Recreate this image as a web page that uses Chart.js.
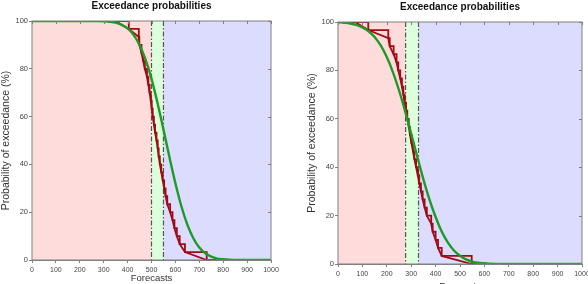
<!DOCTYPE html>
<html>
<head>
<meta charset="utf-8">
<script src="https://cdn.jsdelivr.net/npm/chart.js@4.4.1/dist/chart.umd.min.js"></script>
<style>
  html, body { margin: 0; padding: 0; background: #fff; overflow: hidden; }
  body { width: 588px; height: 284px; position: relative; }
  canvas { position: absolute; top: 0; }
  #left { left: 0; }
  #right { left: 294px; }
</style>
</head>
<body>
<canvas id="left" width="294" height="284"></canvas>
<canvas id="right" width="294" height="292"></canvas>
<script>
// ===== data =====
const xTicks = [0, 100, 200, 300, 400, 500, 600, 700, 800, 900, 1000];
const yTicks = [0, 20, 40, 60, 80, 100];

// forecast x grid for the fitted (green) curves
const greenX = [0, 25, 50, 75, 100, 125, 150, 175, 200, 225, 250, 275, 300, 325, 350, 375, 400,
  425, 450, 475, 500, 525, 550, 575, 600, 625, 650, 675, 700, 725, 750, 775, 800, 825, 850,
  875, 900, 925, 950, 975, 1000];
const greenLeft = [100, 100, 100, 100, 100, 100, 100, 100, 100, 100, 100, 100, 99.9, 99.7, 99.3,
  98.4, 96.9, 94.2, 90.0, 83.9, 75.8, 65.8, 54.6, 43.1, 32.1, 22.5, 14.8, 9.1, 5.2, 2.8, 1.4,
  0.6, 0.3, 0.1, 0.05, 0, 0, 0, 0, 0, 0];
const greenRight = [99.9, 99.7, 99.4, 98.8, 97.8, 96.2, 93.8, 90.3, 85.5, 79.3, 71.8, 63.2, 53.8,
  44.3, 35.0, 26.6, 19.4, 13.4, 8.9, 5.6, 3.4, 1.9, 1.0, 0.5, 0.3, 0.1, 0.05, 0, 0, 0, 0, 0, 0,
  0, 0, 0, 0, 0, 0, 0, 0];

// ensemble members (sorted) and exceedance level after each member
const membersLeft = [405, 447, 449, 458, 465, 472, 481, 487, 492, 497, 501, 505, 510, 515, 521,
  526, 530, 535, 541, 547, 553, 559, 566, 578, 588, 596, 606, 618, 640, 731];
const membersRight = [124, 206, 212, 228, 240, 247, 255, 262, 268, 273, 279, 284, 290, 295, 301,
  307, 313, 320, 327, 333, 340, 347, 355, 364, 382, 388, 400, 410, 425, 548];
const exceedLevels = [96.67, 93.33, 90, 86.67, 83.33, 80, 76.67, 73.33, 70, 66.67, 63.33, 60,
  56.67, 53.33, 50, 46.67, 43.33, 40, 36.67, 33.33, 30, 26.67, 23.33, 20, 16.67, 13.33, 10,
  6.67, 3.33, 0];
// start / end of the interpolated red line
const tailsLeft = [349, 832];
const tailsRight = [70, 655];

// band limits (dash-dot lines)
const bandsLeft = [500, 550];
const bandsRight = [277, 330];

const FONT = "'Liberation Sans', Arial, sans-serif";
const RED = '#a00a14';
const GREEN = '#1e9a26';
const FRAME = '#808080';

const decor = {
  id: 'decor',
  beforeDatasetsDraw(chart, args, opts) {
    const { ctx, chartArea: a, scales: { x } } = chart;
    const p1 = x.getPixelForValue(opts.bands[0]);
    const p2 = x.getPixelForValue(opts.bands[1]);
    const h = a.bottom - a.top;
    ctx.save();
    ctx.fillStyle = '#ffdcdc';
    ctx.fillRect(a.left, a.top, p1 - a.left, h);
    ctx.fillStyle = '#dcffdc';
    ctx.fillRect(p1, a.top, p2 - p1, h);
    ctx.fillStyle = '#dcdcff';
    ctx.fillRect(p2, a.top, a.right - p2, h);

    ctx.strokeStyle = '#555';
    ctx.lineWidth = 1.2;
    ctx.setLineDash([5, 2, 1.5, 2]);
    [p1, p2].forEach(p => {
      ctx.beginPath();
      ctx.moveTo(p, a.top);
      ctx.lineTo(p, a.bottom);
      ctx.stroke();
    });
    ctx.restore();
  },
  afterDatasetsDraw(chart) {
    const { ctx, chartArea: a, scales: { x, y } } = chart;
    ctx.save();
    ctx.strokeStyle = FRAME;
    ctx.lineWidth = 1;
    ctx.strokeRect(a.left, a.top, a.right - a.left, a.bottom - a.top);
    // small inner ticks on top and right
    ctx.beginPath();
    xTicks.forEach(v => {
      const px = Math.round(x.getPixelForValue(v)) + 0.5;
      ctx.moveTo(px, a.top);
      ctx.lineTo(px, a.top + 3);
    });
    yTicks.forEach(v => {
      const py = Math.round(y.getPixelForValue(v)) + 0.5;
      ctx.moveTo(a.right, py);
      ctx.lineTo(a.right - 3, py);
    });
    ctx.stroke();
    ctx.restore();
  },
  afterDraw(chart, args, opts) {
    const { ctx, chartArea: a } = chart;
    ctx.save();
    ctx.font = 'bold 10px ' + FONT;
    ctx.fillStyle = '#111';
    ctx.textAlign = 'center';
    ctx.textBaseline = 'middle';
    ctx.fillText('Exceedance probabilities', (a.left + a.right) / 2, opts.titleY);
    ctx.restore();
  }
};

function buildChart(id, green, members, tails, bands, pad, xHeight, titleY) {
  const step = [{ x: 0, y: 100 }];
  const linear = [{ x: tails[0], y: 100 }];
  members.forEach((m, i) => {
    step.push({ x: m, y: exceedLevels[i] });
    linear.push({ x: m, y: exceedLevels[i] });
  });
  linear.push({ x: tails[1], y: 0 });

  return new Chart(document.getElementById(id), {
    type: 'line',
    data: {
      datasets: [
        {
          data: greenX.map((v, i) => ({ x: v, y: green[i] })),
          borderColor: GREEN,
          borderWidth: 2.4,
          pointRadius: 0,
          cubicInterpolationMode: 'monotone',
          fill: false,
        },
        {
          data: step,
          borderColor: RED,
          borderWidth: 1.8,
          pointRadius: 0,
          stepped: true,
          fill: false,
        },
        {
          data: linear,
          borderColor: RED,
          borderWidth: 1.8,
          pointRadius: 0,
          fill: false,
        },
      ]
    },
    options: {
      responsive: false,
      animation: false,
      devicePixelRatio: 1,
      layout: { padding: pad },
      scales: {
        x: {
          type: 'linear',
          min: 0,
          max: 1000,
          afterBuildTicks: s => { s.ticks = xTicks.map(v => ({ value: v })); },
          afterFit: s => { s.height = xHeight; s.paddingLeft = 0; s.paddingRight = 0; },
          ticks: {
            autoSkip: false,
            maxRotation: 0,
            padding: 3,
            color: '#444',
            font: { family: FONT, size: 7 },
            callback: v => String(v),
          },
          grid: {
            drawOnChartArea: false,
            tickLength: 3,
            color: FRAME,
          },
          border: { color: FRAME },
          title: {
            display: true,
            text: 'Forecasts',
            color: '#333',
            font: { family: FONT, size: 9.5 },
            padding: 0,
          },
        },
        y: {
          min: 0,
          max: 100,
          afterBuildTicks: s => { s.ticks = yTicks.map(v => ({ value: v })); },
          afterFit: s => { s.width = 32; },
          ticks: {
            padding: 1,
            color: '#444',
            font: { family: FONT, size: 7.5 },
            callback: v => String(v),
          },
          grid: {
            drawOnChartArea: false,
            tickLength: 3,
            color: FRAME,
          },
          border: { color: FRAME },
          title: {
            display: true,
            text: 'Probability of exceedance (%)',
            color: '#333',
            font: { family: FONT, size: 10.5 },
            padding: { top: 0, bottom: 0 },
          },
        }
      },
      plugins: {
        legend: { display: false },
        tooltip: { enabled: false },
        decor: { bands: bands, titleY: titleY },
      }
    },
    plugins: [decor],
  });
}

buildChart('left', greenLeft, membersLeft, tailsLeft, bandsLeft,
  { left: 0, right: 23, top: 21, bottom: 0 }, 24, 6);
buildChart('right', greenRight, membersRight, tailsRight, bandsRight,
  { left: 12, right: 6, top: 22, bottom: 0 }, 28, 7);
</script>
</body>
</html>
